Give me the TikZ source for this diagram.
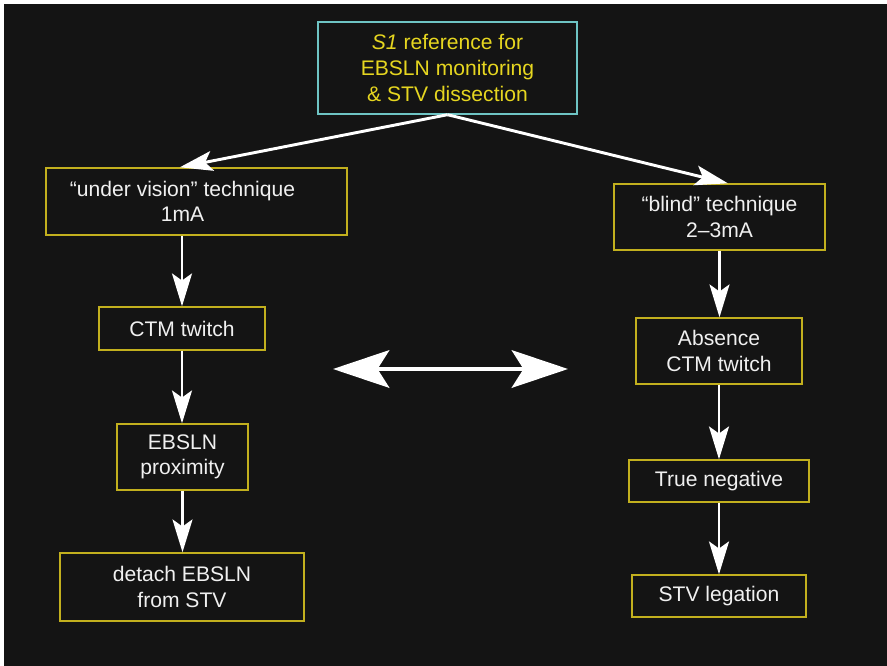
\documentclass[tikz,border=0pt]{standalone}
\usepackage{fontspec}
\setmainfont{Liberation Sans}
\usetikzlibrary{arrows.meta}
\definecolor{bg}{HTML}{141414}
\definecolor{boxline}{HTML}{C2B01E}
\definecolor{topline}{HTML}{6EC4C4}
\definecolor{toptext}{HTML}{E6D620}
\definecolor{txt}{HTML}{F0F0F0}
\tikzset{
	box/.style={draw=boxline, line width=1.2pt, inner sep=0pt, align=center, text=txt,
		font=\fontsize{18}{21.8}\selectfont},
	topbox/.style={box, draw=topline, text=toptext},
	flow/.style={draw=white, line width=2.5pt, -{Stealth[length=28pt, width=17pt, inset=6pt]}},
	bothway/.style={draw=white, line width=4pt, {Stealth[length=48pt, width=32pt, inset=10pt]}-{Stealth[length=48pt, width=32pt, inset=10pt]}}
}
\begin{document}
\begin{tikzpicture}[x=0.03cm, y=-0.03cm]
	% frame and background
	\fill[white] (0,0) rectangle (887,666);
	\fill[bg] (4,4) rectangle (887,666);
	\useasboundingbox (0,0) rectangle (887,666);

	\node[topbox, minimum width=7.77cm, minimum height=2.76cm] (s1) at (447.5,68)
		{\textit{S1} reference for\\EBSLN monitoring\\\& STV dissection};

	% left branch
	\node[box, minimum width=9.03cm, minimum height=2.01cm] (uv) at (196.5,201.5)
		{\hspace*{-0.84cm}“under vision” technique\\\hspace*{-0.84cm}1mA};
	\node[box, minimum width=4.98cm, minimum height=1.29cm] (ctm) at (182,328.5) {CTM twitch};
	\node[box, minimum width=3.93cm, minimum height=1.98cm] (prox) at (182.5,457) {EBSLN\\proximity};
	\node[box, minimum width=7.32cm, minimum height=2.04cm] (detach) at (182,587) {detach EBSLN\\from STV};

	% right branch
	\node[box, minimum width=6.33cm, minimum height=1.98cm] (blind) at (719.5,217)
		{“blind” technique\\2–3mA};
	\node[box, minimum width=4.98cm, minimum height=1.98cm] (absent) at (719,351) {Absence\\CTM twitch};
	\node[box, minimum width=5.4cm, minimum height=1.26cm] (trueneg) at (719,481) {True negative};
	\node[box, minimum width=5.22cm, minimum height=1.26cm] (legation) at (719,596) {STV legation};

	\path[flow] (s1.south) -- ([xshift=-0.5cm]uv.north);
	\path[flow] (s1.south) -- ([xshift=0.25cm]blind.north);

	\path[flow] (ctm.north |- uv.south) -- (ctm.north);
	\path[flow] (ctm.south) -- (prox.north -| ctm.south);
	\path[flow] (prox.south) -- (prox.south |- detach.north);

	\path[flow] (blind.south) -- (blind.south |- absent.north);
	\path[flow] (absent.south) -- (trueneg.north);
	\path[flow] (trueneg.south) -- (legation.north);

	% link between the two techniques
	\coordinate (lend) at (333,369);
	\coordinate (rend) at (568,369);
	\path[bothway] (lend) -- (rend);
\end{tikzpicture}
\end{document}
